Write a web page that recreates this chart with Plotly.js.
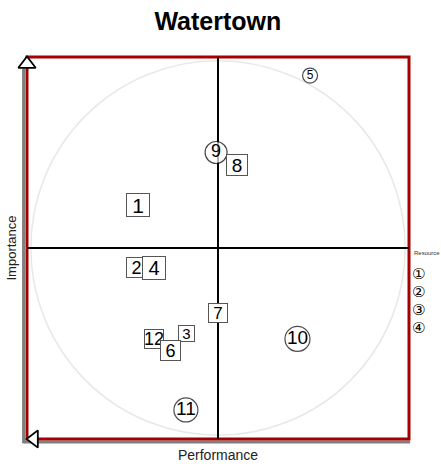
<!DOCTYPE html>
<html>
<head>
<meta charset="utf-8">
<script src="https://cdn.plot.ly/plotly-3.0.1.min.js"></script>
<style>html,body{margin:0;padding:0;background:#fff;}#chart{width:441px;height:464px;}</style>
</head>
<body>
<div id="chart"></div>
<script>
// Data
const labels = ['12', '1', '2', '3', '4', '5', '6', '7', '8', '9', '10', '11'];
const performance = [-0.335, -0.419, -0.429, -0.165, -0.335, 0.482, -0.251, 0.000, 0.099, -0.010, 0.416, -0.168];
const importance  = [-0.476, 0.223, -0.102, -0.448, -0.105, 0.903, -0.537, -0.340, 0.435, 0.500, -0.476, -0.848];
const markType    = ['box', 'box', 'box', 'box', 'box', 'circle', 'box', 'box', 'box', 'circle', 'circle', 'circle'];
const markSize    = [20, 24, 21, 17, 24, 15, 21, 20, 22, 22, 25, 24];
const fontSize    = [18, 21, 18, 15, 20, 12, 18, 17, 19, 18, 19, 19];
const legendItems = ['①', '②', '③', '④'];
const legendTitle = 'Resource';

const FONT = 'Liberation Sans, Arial, Helvetica, sans-serif';

// circles -> scatter markers with text
const cx = [], cy = [], ct = [], cs = [], cf = [];
const annotations = [];
for (let i = 0; i < labels.length; i++) {
  if (markType[i] === 'circle') {
    cx.push(performance[i]); cy.push(importance[i]); ct.push(labels[i]);
    cs.push(markSize[i]); cf.push(fontSize[i]);
  } else {
    annotations.push({
      x: performance[i], y: importance[i], xref: 'x', yref: 'y',
      text: labels[i], showarrow: false,
      width: markSize[i] - 2, height: markSize[i] - 2,
      bgcolor: '#ffffff', bordercolor: '#555555', borderwidth: 1, borderpad: 0,
      font: {family: FONT, size: fontSize[i], color: '#000'},
      xanchor: 'center', yanchor: 'middle', align: 'center', valign: 'middle'
    });
  }
}

// legend (clipped at right edge in the reference)
annotations.push({
  x: 1.009, y: 0.487, xref: 'paper', yref: 'paper', xanchor: 'left', yanchor: 'middle',
  text: legendTitle, showarrow: false, font: {family: FONT, size: 6, color: '#333'}
});
legendItems.forEach((t, k) => {
  annotations.push({
    x: 1.024, y: 0.432 - k * 0.047, xref: 'paper', yref: 'paper',
    xanchor: 'center', yanchor: 'middle', text: t, showarrow: false,
    font: {family: 'DejaVu Sans, Noto Sans CJK SC', size: 15, color: '#000'}
  });
});

const traces = [
  {
    type: 'scatter', mode: 'markers',
    x: [-1, -0.963], y: [0.963, -1],
    marker: {symbol: ['triangle-up', 'triangle-left'], size: 15, color: '#ffffff', line: {width: 1.8, color: '#000'}},
    cliponaxis: false, hoverinfo: 'skip', showlegend: false
  },
  {
    type: 'scatter', mode: 'markers+text',
    x: cx, y: cy, text: ct,
    textposition: 'middle center',
    textfont: {family: FONT, size: cf, color: '#000'},
    marker: {symbol: 'circle', size: cs, color: '#ffffff', line: {width: 1.2, color: '#000'}},
    cliponaxis: false, hoverinfo: 'skip', showlegend: false
  }
];

const layout = {
  width: 441, height: 464,
  margin: {l: 27, r: 32, t: 57, b: 25},
  paper_bgcolor: '#fff', plot_bgcolor: '#fff',
  showlegend: false,
  title: {text: '<b>Watertown</b>', font: {family: FONT, size: 25, color: '#000'},
          x: 0.494, xanchor: 'center', y: 0.955, yanchor: 'middle', yref: 'container'},
  xaxis: {range: [-1, 1], showgrid: false, zeroline: false, showticklabels: false, ticks: '',
          showline: false, fixedrange: true,
          title: {text: 'Performance', font: {family: FONT, size: 14, color: '#222'}, standoff: 11}},
  yaxis: {range: [-1, 1], showgrid: false, zeroline: false, showticklabels: false, ticks: '',
          showline: false, fixedrange: true,
          title: {text: 'Importance', font: {family: FONT, size: 13, color: '#222'}, standoff: 6}},
  shapes: [
    {type: 'circle', xref: 'x', yref: 'y', x0: -0.98, x1: 0.98, y0: -0.98, y1: 0.98,
     line: {color: '#e8e8e8', width: 1.5}, layer: 'below'},
    {type: 'line', xref: 'x', yref: 'y', x0: 0, x1: 0, y0: -1, y1: 1,
     line: {color: '#000', width: 2}, layer: 'below'},
    {type: 'line', xref: 'x', yref: 'y', x0: -1, x1: 1, y0: 0, y1: 0,
     line: {color: '#000', width: 2}, layer: 'below'},
    {type: 'line', xref: 'paper', yref: 'paper', x0: -0.009, x1: -0.009, y0: -0.011, y1: 0.97,
     line: {color: '#808080', width: 3}, layer: 'below'},
    {type: 'line', xref: 'paper', yref: 'paper', x0: -0.009, x1: 1.003, y0: -0.008, y1: -0.008,
     line: {color: '#808080', width: 3}, layer: 'below'},
    {type: 'rect', xref: 'paper', yref: 'paper', x0: 0, x1: 1, y0: 0, y1: 1,
     line: {color: '#a30000', width: 3}, layer: 'below'}
  ],
  annotations: annotations
};

Plotly.newPlot('chart', traces, layout, {displayModeBar: false, staticPlot: true});
</script>
</body>
</html>
